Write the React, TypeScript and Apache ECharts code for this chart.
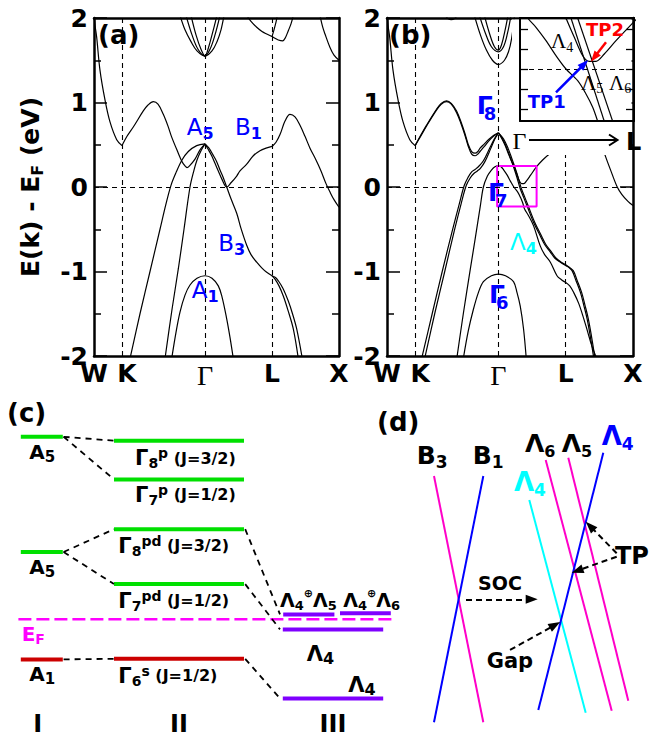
import { useEffect, useRef } from 'react';
import * as echarts from 'echarts';

// ---------- tick labels ----------
const kTicks = [0, 28, 111, 178, 245];
const kLabels = ['W', 'K', 'Γ', 'L', 'X'];
const eTicks = [-2, -1, 0, 1, 2];
const insetTicks = [-0.2, -0.1, 0, 0.1, 0.2];

// ---------- panel (a): bands without SOC  [k, E(eV)] ----------
const aAlphaWK = [[0, 2.03], [1.2, 1.9], [2.7, 1.77], [6, 1.38], [11, 1.03], [16, 0.77], [22.7, 0.56], [28, 0.49]];
const aAlphaKG = [[28, 0.49], [33, 0.6], [39.3, 0.71], [49.3, 0.9], [54, 0.97], [59.3, 1.01], [64, 0.98], [69.3, 0.86], [74, 0.72], [77.7, 0.59], [84.3, 0.4], [88, 0.3], [91, 0.25], [93, 0.23], [95.5, 0.25], [101, 0.33], [106, 0.44], [111, 0.51]];
const aBeta = [[36, -2.03], [46, -1.5], [56, -1.0], [66, -0.5], [72, -0.2], [77, 0.02], [82, 0.17], [88, 0.32], [94.3, 0.42], [102.7, 0.49], [111, 0.51]];
const aGamma = [[71, -2.03], [78, -1.45], [84.3, -0.97], [90, -0.5], [96, 0], [100, 0.2], [103, 0.32], [107, 0.43], [111, 0.51]];
const aA1 = [[77.7, -2.03], [82, -1.72], [86, -1.48], [91, -1.28], [96, -1.16], [103, -1.08], [111, -1.05], [118, -1.08], [124.3, -1.17], [128, -1.3], [132.7, -1.56], [136, -1.78], [139.3, -2.03]];
const aB1GL = [[111, 0.51], [114, 0.45], [117.7, 0.37], [121, 0.28], [124.3, 0.19], [128, 0.09], [132.7, 0.0], [137, 0.05], [142.7, 0.13], [146, 0.19], [152.7, 0.27], [159.3, 0.37], [166, 0.43], [172, 0.46], [178, 0.48]];
const aB1LX = [[178, 0.48], [182, 0.53], [186, 0.62], [191, 0.78], [196, 0.86], [201, 0.83], [206, 0.73], [211, 0.6], [216, 0.46], [222, 0.32], [227, 0.19], [232, 0.04], [236, -0.06], [240, -0.15], [245, -0.24]];
const aB3GL = [[111, 0.51], [115, 0.46], [119, 0.38], [122.7, 0.3], [126, 0.2], [129.3, 0.11], [132.7, 0.0], [137, -0.14], [142.7, -0.31], [147, -0.49], [152.7, -0.69], [157, -0.8], [162.7, -0.89], [168, -0.96], [172.7, -1.01], [178, -1.05]];
const aB3LX1 = [[178, -1.05], [181, -1.09], [185, -1.17], [189.3, -1.29], [194, -1.46], [199.3, -1.68], [204.3, -2.03]];
const aB3LX2 = [[178, -1.05], [181.5, -1.07], [184.3, -1.11], [189, -1.2], [194.3, -1.35], [198.5, -1.5], [202.7, -1.68], [208.3, -2.03]];
const aUp1 = [[86, 2.03], [91, 1.86], [97, 1.72], [103, 1.61], [111, 1.55], [118, 1.61], [123, 1.72], [127, 1.86], [130, 2.03]];
const aUp2 = [[92, 2.03], [98, 1.8], [104, 1.63], [111, 1.55], [116, 1.63], [121, 1.8], [126, 2.03]];
const aUp3 = [[97, 2.03], [102, 1.8], [107, 1.63], [111, 1.55], [114, 1.63], [118, 1.8], [123, 2.03]];
const aUpL1 = [[152.7, 2.03], [157, 1.96], [162.7, 1.89], [168, 1.84], [172.7, 1.81], [178, 1.78], [181, 1.76], [184.3, 1.74], [188.7, 1.73], [191.5, 1.77], [194.3, 1.85], [197, 1.93], [199.3, 2.03]];
const aUpL2 = [[178, 1.78], [180, 1.86], [182, 1.95], [183.3, 2.03]];
const aUpX = [[226, 2.03], [228.5, 1.9], [231, 1.81], [236, 1.65], [240, 1.56], [245, 1.5]];

// ---------- panel (b): bands with SOC ----------
const bAlphaWK = [[0, 2.03], [1.2, 1.9], [2.7, 1.77], [6, 1.38], [11, 1.03], [16, 0.77], [22.7, 0.56], [28, 0.49]];
const bAlphaKG1 = [[28, 0.49], [33, 0.6], [39.3, 0.73], [49.3, 0.92], [54, 0.99], [59.3, 1.02], [64, 0.99], [69.3, 0.9], [74, 0.76], [77.7, 0.63], [81, 0.5], [84.3, 0.42], [87.7, 0.4], [90.5, 0.42], [92.7, 0.46], [97, 0.51], [101, 0.56], [106, 0.61], [111, 0.64]];
const bAlphaKG2 = [[28, 0.49], [33, 0.59], [39.3, 0.72], [49.3, 0.91], [54, 0.98], [59.3, 1.01], [64, 0.98], [69.3, 0.88], [74, 0.74], [77.7, 0.61], [81, 0.48], [84.3, 0.39], [87.7, 0.37], [90.5, 0.39], [92.7, 0.42], [97, 0.48], [101, 0.54], [106, 0.6], [111, 0.64]];
const bBeta1 = [[34.5, -2.03], [45, -1.5], [55, -1.0], [65, -0.52], [72, -0.2], [77, 0.02], [81, 0.12], [84.3, 0.18], [88, 0.21], [91, 0.24], [96, 0.31], [102.7, 0.47], [107, 0.57], [111, 0.64]];
const bBeta2 = [[37.5, -2.03], [47.5, -1.5], [57.5, -1.0], [67, -0.52], [74, -0.19], [79, 0.02], [83, 0.11], [86.5, 0.16], [90, 0.19], [93, 0.22], [97.5, 0.3], [103.5, 0.46], [107.5, 0.57], [111, 0.64]];
const bGamma7 = [[69.5, -2.03], [76, -1.5], [83, -0.97], [88, -0.6], [93, -0.22], [96, 0.0], [100, 0.13], [104, 0.2], [107.5, 0.24], [111, 0.25]];
const bGamma6 = [[76, -2.03], [81, -1.7], [86, -1.45], [91, -1.25], [96, -1.12], [104, -1.05], [111, -1.03], [118, -1.05], [126, -1.12], [129.5, -1.25], [132.7, -1.41], [136, -1.68], [138.7, -2.03]];
const bLam5GL = [[111, 0.64], [115, 0.57], [119.3, 0.46], [123, 0.34], [126, 0.24], [129.5, 0.11], [132.7, -0.02], [136, -0.12], [139.3, -0.22], [146, -0.42], [152.7, -0.58], [157, -0.68], [162.7, -0.77], [167, -0.84], [172.7, -0.89], [178, -0.93]];
const bLam5LX = [[178, -0.93], [181, -0.95], [184.3, -0.99], [188, -1.1], [192.7, -1.25], [196, -1.4], [199.3, -1.56], [202.5, -1.77], [206, -2.03]];
const bLam6GL = [[111, 0.64], [116, 0.57], [120.5, 0.46], [124.2, 0.34], [127.2, 0.24], [130.7, 0.11], [133.9, -0.02], [137.2, -0.12], [140.5, -0.22], [147.2, -0.42], [153.9, -0.58], [158.2, -0.68], [163.9, -0.77], [168.2, -0.84], [173.5, -0.89], [178, -0.92]];
const bLam6LX = [[178, -0.92], [181.5, -0.95], [185.5, -0.99], [189.2, -1.1], [193.9, -1.25], [197.2, -1.4], [200.5, -1.56], [203.7, -1.77], [207.2, -2.03]];
const bLam4UpGL = [[111, 0.64], [114, 0.58], [117.7, 0.49], [121, 0.39], [124.3, 0.3], [126.3, 0.25], [129.1, 0.16], [131.9, 0.07], [134.1, 0.04], [136.3, 0.04], [139.1, 0.075], [143, 0.14], [149, 0.24], [155, 0.32], [162.7, 0.4], [168, 0.44], [173, 0.47], [178, 0.48]];
const bLam4UpLX = [[178, 0.48], [182, 0.53], [186, 0.62], [191, 0.78], [196, 0.86], [201, 0.83], [206, 0.74], [211, 0.6], [215, 0.46], [217.7, 0.36], [222.7, 0.2], [229.3, 0.0], [234, -0.09], [240, -0.17], [245, -0.22]];
const bLam4LoGL = [[111, 0.25], [113.6, 0.24], [116.3, 0.2], [119.7, 0.14], [123, 0.067], [126.3, 0.0], [130.2, -0.06], [133, -0.125], [135.2, -0.19], [137, -0.26], [141, -0.34], [146, -0.46], [152.7, -0.7], [157, -0.8], [162.7, -0.89], [169.3, -1.05], [174, -1.1], [178, -1.13]];
const bLam4LoLX = [[178, -1.13], [182, -1.17], [186, -1.25], [191, -1.38], [196, -1.56], [200, -1.72], [204, -1.88], [209, -2.03]];
const bUp1 = [[87, 2.03], [93, 1.8], [99, 1.62], [105, 1.5], [111, 1.45], [117, 1.5], [121, 1.6], [124, 1.75], [127, 2.03]];
const bUp2 = [[92, 2.03], [98, 1.82], [104, 1.66], [111, 1.6], [116, 1.66], [120, 1.82], [123.5, 2.03]];
const bUp3 = [[97, 2.03], [102, 1.82], [107, 1.66], [111, 1.62], [114, 1.68], [117.5, 1.85], [120.5, 2.03]];
const bTop = [[58, 2.03], [61, 1.99], [64, 1.98], [67, 1.99], [70, 2.03]];
const bZoomBox = [[109.7, 0.25], [149, 0.25], [149, -0.23], [109.7, -0.23], [109.7, 0.25]];

// ---------- inset (zoom of the magenta box) ----------
const insLam4Lo = [[112.6, 0.29], [113.57, 0.255], [116.33, 0.2085], [119.67, 0.1415], [123, 0.0665], [126.33, 0], [130.23, -0.0585], [133, -0.125], [135.23, -0.1915], [136.9, -0.2615], [137.2, -0.28]];
const insLam4Up = [[125.6, 0.29], [126.33, 0.255], [129.1, 0.1585], [131.9, 0.0665], [134.1, 0.0385], [136.33, 0.0385], [139.1, 0.075], [143, 0.1415], [149.1, 0.2385], [150, 0.25]];
const insLam5 = [[127.5, 0.278], [139.6, -0.285]];
const insLam6 = [[129.7, 0.278], [142.4, -0.284]];
const insArrowTP1 = [[123, -0.1165], [132.43, 0.025]];
const insArrowTP2 = [[139.67, 0.1335], [135.77, 0.0585]];

// ---------- panel (c): schematic levels ----------
const cLevelsI = [9.44, 5.6, 2.02]; // A5, A5, A1
const cLevelsII = [9.31, 8.02, 6.36, 4.53, 2.04]; // Γ8p, Γ7p, Γ8pd, Γ7pd, Γ6s
const cLevelsIII = [3.52, 3.56, 3.02, 0.72]; // Λ4⊕Λ5, Λ4⊕Λ6, Λ4, Λ4
const cEF = 3.36;
const cLinksI_II = [[0, 0], [0, 1], [1, 2], [1, 3], [2, 4]];
const cLinksII_III = [[2, 0], [3, 2], [4, 3]];

// ---------- panel (d): schematic crossings ----------
const dB3 = [[1.133, 8.467], [2.777, 0.257]];
const dB1 = [[2.777, 8.467], [1.133, 0.257]];
const dLam4c = [[4.31, 7.667], [6.19, 0.577]];
const dLam6 = [[4.857, 9.0], [7.057, 0.643]];
const dLam5 = [[5.61, 9.077], [7.61, 0.977]];
const dLam4b = [[6.777, 9.243], [4.61, 0.667]];
const dArrows = [
  [[2.2, 4.357], [4.39, 4.357]],
  [[7.223, 5.89], [6.333, 6.8]],
  [[7.223, 5.777], [5.91, 5.31]],
  [[3.667, 2.667], [5.167, 3.5]],
];

const FF = 'DejaVu Sans';
const SERIF = 'Liberation Serif';
const GREEN = '#00e000';
const RED = '#cc0000';
const PURPLE = '#7f00ff';
const MAG = '#ff00ff';
const PINK = '#ff00c8';
const BLUE = '#0000ff';
const CYAN = '#00ffff';

function kFormatter(v: number) {
  const i = kTicks.findIndex((t) => Math.abs(t - v) < 0.01);
  if (i < 0) return '';
  const l = kLabels[i];
  if (l === 'Γ') return '{g|Γ}';
  if (l === 'K') return '{k|K}';
  return '{b|' + l + '}';
}

function kAxis(gridIndex: number, position: string, labels: boolean) {
  return {
    type: 'value', gridIndex, position, min: 0, max: 245,
    axisLine: { show: true, onZero: false, lineStyle: { color: '#000', width: 2.5 } },
    axisTick: { show: false }, splitLine: { show: false }, minorTick: { show: false },
    axisLabel: labels
      ? {
          show: true, margin: 5, customValues: kTicks, formatter: kFormatter,
          rich: {
            b: { fontFamily: FF, fontWeight: 'bold', fontSize: 25, color: '#000' },
            k: { fontFamily: FF, fontWeight: 'bold', fontSize: 25, color: '#000', padding: [0, 0, 0, 10] },
            g: { fontFamily: SERIF, fontSize: 28, color: '#000' },
          },
        }
      : { show: false },
  };
}

function eAxis(gridIndex: number, position: string, labels: boolean) {
  return {
    type: 'value', gridIndex, position, min: -2, max: 2, interval: 1,
    axisLine: { show: true, onZero: false, lineStyle: { color: '#000', width: 2.5 } },
    axisTick: { show: true, inside: true, length: 13, lineStyle: { color: '#000', width: 1.5 } },
    minorTick: { show: true, splitNumber: 2, length: 7, lineStyle: { color: '#000', width: 1.5 } },
    splitLine: { show: false },
    axisLabel: labels
      ? { show: true, margin: 6, customValues: eTicks, color: '#000', fontFamily: FF, fontWeight: 'bold', fontSize: 25, showMinLabel: true, showMaxLabel: true }
      : { show: false },
  };
}

function hiddenAxis(gridIndex: number, min: number, max: number) {
  return { type: 'value', gridIndex, min, max, show: false };
}

function band(data: number[][], ax: number, extra: any = {}) {
  return {
    type: 'line', xAxisIndex: ax, yAxisIndex: ax, data, symbol: 'none', showSymbol: false,
    smooth: 0.35, silent: true, lineStyle: { color: '#000', width: 1.2 }, ...extra,
  };
}

function refLines() {
  return {
    silent: true, symbol: ['none', 'none'], label: { show: false },
    lineStyle: { color: '#000', type: [5, 4], width: 1.1 },
    data: [{ xAxis: kTicks[1] }, { xAxis: kTicks[2] }, { xAxis: kTicks[3] }, { yAxis: 0 }],
  };
}

function seg(ax: number, p0: number[], p1: number[], color: string, width: number, type: any = 'solid', extra: any = {}) {
  return {
    type: 'line', xAxisIndex: ax, yAxisIndex: ax, data: [p0, p1], symbol: 'none', silent: true,
    lineStyle: { color, width, type }, ...extra,
  };
}

// rich-text helpers
function rs(size: number, color: string, weight = 'bold', family = FF, lh?: number, va = 'middle', extra: any = {}) {
  return { fontSize: size, fontWeight: weight, fontFamily: family, fill: color, lineHeight: lh ?? Math.round(size * 1.25), verticalAlign: va, ...extra };
}
function T(x: number, y: number, text: string, rich: any, extra: any = {}, z = 100) {
  return { type: 'text', x, y, z, silent: true, style: { text, rich, align: 'left', verticalAlign: 'middle', ...extra } };
}
function subLabel(x: number, y: number, main: string, sub: string, color: string, mSize: number, sSize: number, mWeight = 'bold', family = FF, sLh?: number, z = 100) {
  return T(x, y, `{m|${main}}{s|${sub}}`, {
    m: rs(mSize, color, mWeight, family),
    s: rs(sSize, color, family === FF ? 'bold' : 'normal', family, sLh ?? Math.round(sSize * 0.9), 'bottom'),
  }, {}, z);
}
// Γ with its subscript tucked under the bar (as in panel b)
function tuckedGamma(x: number, y: number, sub: string, color: string) {
  return T(x, y, `{m|Γ}{s|${sub}}`, {
    m: rs(25, color, 'bold', FF, 34, 'middle', { width: 7 }),
    s: rs(18, color, 'bold', FF, 6, 'bottom'),
  });
}
function plain(x: number, y: number, text: string, size: number, color = '#000', align = 'left', weight = 'bold', family = FF, z = 100) {
  return { type: 'text', x, y, z, silent: true, style: { text, fill: color, fontSize: size, fontWeight: weight, fontFamily: family, align, verticalAlign: 'middle' } };
}
function gammaLabel(x: number, y: number, sub: string, sup: string, j: string) {
  return T(x, y, `{m|Γ}{s|${sub}}{p|${sup}}{j| ${j}}`, {
    m: rs(21, '#000', 'bold', FF, 24),
    s: rs(14, '#000', 'bold', FF, 13, 'bottom'),
    p: rs(14, '#000', 'bold', FF, 14, 'top'),
    j: rs(16, '#000', 'bold', FF, 24),
  });
}
function lamSum(x: number, y: number, a: string, b: string) {
  return T(x, y, `{m|Λ}{s|${a}}{o|⊕}{m|Λ}{s|${b}}`, {
    m: rs(19, '#000', 'bold', FF, 24),
    s: rs(13, '#000', 'bold', FF, 12, 'bottom'),
    o: rs(11, '#000', 'bold', FF, 12, 'top'),
  });
}

function buildOption() {
  const series: any[] = [];

  // (a)
  const aBands = [aAlphaWK, aAlphaKG, aBeta, aGamma, aA1, aB1GL, aB1LX, aB3GL, aB3LX1, aB3LX2, aUp1, aUp2, aUp3, aUpL1, aUpL2, aUpX];
  aBands.forEach((d, i) => series.push(band(d, 0, i === 0 ? { markLine: refLines() } : {})));

  // (b)
  const bBands = [bAlphaWK, bAlphaKG1, bAlphaKG2, bBeta1, bBeta2, bGamma7, bGamma6, bLam5GL, bLam5LX, bLam6GL, bLam6LX, bLam4UpGL, bLam4UpLX, bLam4LoGL, bLam4LoLX, bUp1, bUp2, bUp3, bTop];
  bBands.forEach((d, i) => series.push(band(d, 2, i === 0 ? { markLine: refLines() } : {})));
  series.push(band(bZoomBox, 2, { smooth: false, lineStyle: { color: MAG, width: 2 } }));

  // inset
  [insLam4Lo, insLam4Up, insLam5, insLam6].forEach((d, i) =>
    series.push(band(d, 4, {
      z: 60, smooth: i < 2 ? 0.3 : false, lineStyle: { color: '#000', width: 1.2 },
      ...(i === 0
        ? {
            markLine: {
              z: 61, silent: true, symbol: ['none', 'none'], label: { show: false },
              lineStyle: { color: '#000', type: [5, 4], width: 1.1 }, data: [{ yAxis: 0 }],
            },
          }
        : {}),
      ...(i === 1
        ? {
            markLine: {
              z: 65, silent: true, symbol: ['none', 'triangle'], symbolSize: [8, 11], label: { show: false },
              data: [
                [{ coord: insArrowTP1[0], lineStyle: { color: BLUE, width: 2.5, type: 'solid' } }, { coord: insArrowTP1[1] }],
                [{ coord: insArrowTP2[0], lineStyle: { color: '#ff0000', width: 2.5, type: 'solid' } }, { coord: insArrowTP2[1] }],
              ],
            },
          }
        : {}),
    }))
  );

  // (c) levels
  const colI = [0.52, 1.57];
  const colII = [2.85, 6.1];
  const colIIIspans = [[7.08, 8.36], [8.5, 9.77], [7.07, 9.58], [7.07, 9.58]];
  const colorsI = [GREEN, GREEN, RED];
  const colorsII = [GREEN, GREEN, GREEN, GREEN, RED];
  series.push(seg(6, [0.46, cEF], [9.83, cEF], MAG, 2.5, [13, 5]));
  cLevelsI.forEach((e, i) => series.push(seg(6, [colI[0], e], [colI[1], e], colorsI[i], 4)));
  cLevelsII.forEach((e, i) => series.push(seg(6, [colII[0], e], [colII[1], e], colorsII[i], 4)));
  cLevelsIII.forEach((e, i) => series.push(seg(6, [colIIIspans[i][0], e], [colIIIspans[i][1], e], PURPLE, 4)));
  cLinksI_II.forEach(([i, j]) => series.push(seg(6, [colI[1] + 0.02, cLevelsI[i]], [colII[0], cLevelsII[j]], '#000', 1.8, [6, 5])));
  cLinksII_III.forEach(([j, k]) => series.push(seg(6, [colII[1] + 0.03, cLevelsII[j]], [7.0, cLevelsIII[k]], '#000', 1.8, [6, 5])));

  // (d)
  const dLines = [dB3, dB1, dLam4c, dLam6, dLam5, dLam4b];
  const dColors = [PINK, BLUE, CYAN, PINK, PINK, BLUE];
  dLines.forEach((d, i) =>
    series.push(seg(7, d[0], d[1], dColors[i], 2, 'solid', i === 0
      ? {
          markLine: {
            silent: true, symbol: ['none', 'triangle'], symbolSize: [9, 12], label: { show: false },
            lineStyle: { color: '#000', type: [6, 4], width: 2 },
            data: dArrows.map((a) => [{ coord: a[0] }, { coord: a[1] }]),
          },
        }
      : {}))
  );

  const graphic: any[] = [
    // white area behind the inset and the Γ→L arrow
    { type: 'rect', z: 50, silent: true, shape: { x: 512, y: 19.5, width: 119.5, height: 135.5 }, style: { fill: '#fff' } },
    // axis title
    {
      type: 'text', x: 30, y: 187, rotation: Math.PI / 2, z: 100, silent: true,
      style: {
        text: '{m|E(k) - E}{s|F}{m| (eV)}', align: 'center', verticalAlign: 'middle',
        rich: { m: rs(25, '#000', 'bold', FF, 30), s: rs(16, '#000', 'bold', FF, 14, 'bottom') },
      },
    },
    plain(98, 35, '(a)', 26),
    plain(389, 35, '(b)', 26),
    subLabel(186.7, 127, 'A', '5', BLUE, 23, 16, 'normal'),
    subLabel(235, 127, 'B', '1', BLUE, 23, 16, 'normal'),
    subLabel(218.3, 243, 'B', '3', BLUE, 23, 16, 'normal'),
    subLabel(191.7, 290, 'A', '1', BLUE, 23, 16, 'normal'),
    tuckedGamma(476.7, 105, '8', BLUE),
    tuckedGamma(488, 192.5, '7', BLUE),
    tuckedGamma(489, 294, '6', BLUE),
    subLabel(510, 242, 'Λ', '4', CYAN, 23, 16, 'normal', FF, 11),
    // inset labels
    subLabel(551, 41, 'Λ', '4', '#000', 21, 14, 'normal', SERIF, 11, 70),
    subLabel(581, 82.5, 'Λ', '5', '#000', 21, 14, 'normal', SERIF, 11, 70),
    subLabel(609, 82.5, 'Λ', '6', '#000', 21, 14, 'normal', SERIF, 11, 70),
    plain(586, 29, 'TP2', 18, '#ff0000', 'left', 'bold', FF, 70),
    plain(527.7, 101.5, 'TP1', 18, BLUE, 'left', 'bold', FF, 70),
    plain(512.5, 140.5, 'Γ', 24, '#000', 'left', 'normal', SERIF, 70),
    plain(626, 141.5, 'L', 24, '#000', 'left', 'bold', FF, 70),
    { type: 'line', z: 70, silent: true, shape: { x1: 529, y1: 140, x2: 617, y2: 140 }, style: { stroke: '#000', lineWidth: 2 } },
    { type: 'polyline', z: 70, silent: true, shape: { points: [[609, 134.5], [617.5, 140], [609, 145.5]] }, style: { stroke: '#000', lineWidth: 2, fill: 'none' } },
    // (c)
    plain(7, 413, '(c)', 26),
    subLabel(29.3, 451.5, 'A', '5', '#000', 20, 15, 'bold', FF, 11),
    subLabel(29.3, 566.5, 'A', '5', '#000', 20, 15, 'bold', FF, 11),
    subLabel(29.3, 673.5, 'A', '1', '#000', 20, 15, 'bold', FF, 11),
    gammaLabel(135, 458, '8', 'p', '(J=3/2)'),
    gammaLabel(135, 494.5, '7', 'p', '(J=1/2)'),
    gammaLabel(118.3, 545.5, '8', 'pd', '(J=3/2)'),
    gammaLabel(118.3, 600.5, '7', 'pd', '(J=1/2)'),
    gammaLabel(118.3, 675.5, '6', 's', '(J=1/2)'),
    subLabel(21.7, 633.5, 'E', 'F', MAG, 20, 14, 'bold', FF, 10),
    lamSum(280, 600, '4', '5'),
    lamSum(343.3, 600, '4', '6'),
    subLabel(306.7, 653.5, 'Λ', '4', '#000', 21, 16, 'bold', FF, 11),
    subLabel(348.3, 684.5, 'Λ', '4', '#000', 21, 16, 'bold', FF, 11),
    plain(37.7, 724, 'I', 24, '#000', 'center'),
    plain(179, 724, 'II', 24, '#000', 'center'),
    plain(333, 724, 'III', 24, '#000', 'center'),
    // (d)
    plain(377, 422, '(d)', 26),
    subLabel(416.7, 455, 'B', '3', '#000', 25, 17, 'bold', FF, 13),
    subLabel(472.7, 455, 'B', '1', '#000', 25, 17, 'bold', FF, 13),
    subLabel(514, 482, 'Λ', '4', CYAN, 26, 17, 'bold', FF, 13),
    subLabel(525, 443.5, 'Λ', '6', '#000', 25, 16, 'bold', FF, 13),
    subLabel(561.7, 443.5, 'Λ', '5', '#000', 25, 16, 'bold', FF, 13),
    subLabel(601.7, 436, 'Λ', '4', BLUE, 26, 17, 'bold', FF, 13),
    plain(500, 583, 'SOC', 19, '#000', 'center'),
    plain(615, 556, 'TP', 24),
    plain(486.7, 661, 'Gap', 21),
  ];

  return {
    animation: false,
    backgroundColor: '#fff',
    grid: [
      { left: 94, top: 18, width: 245, height: 338, outerBoundsMode: 'none' },
      { left: 387, top: 18, width: 246, height: 338, outerBoundsMode: 'none' },
      { left: 520, top: 18, width: 114, height: 103, z: 60, outerBoundsMode: 'none' },
      { left: 0, top: 420, width: 400, height: 300, outerBoundsMode: 'none' },
      { left: 400, top: 430, width: 240, height: 300, outerBoundsMode: 'none' },
    ],
    xAxis: [
      kAxis(0, 'bottom', true),
      kAxis(0, 'top', false),
      kAxis(1, 'bottom', true),
      kAxis(1, 'top', false),
      {
        type: 'value', gridIndex: 2, position: 'bottom', min: 111, max: 149, z: 60,
        axisLine: { show: true, onZero: false, lineStyle: { color: '#000', width: 2 } },
        axisTick: { show: false }, axisLabel: { show: false }, splitLine: { show: false },
      },
      {
        type: 'value', gridIndex: 2, position: 'top', min: 111, max: 149, z: 60,
        axisLine: { show: true, onZero: false, lineStyle: { color: '#000', width: 2 } },
        axisTick: { show: false }, axisLabel: { show: false }, splitLine: { show: false },
      },
      hiddenAxis(3, 0, 10),
      hiddenAxis(4, 0, 8),
    ],
    yAxis: [
      eAxis(0, 'left', true),
      eAxis(0, 'right', false),
      eAxis(1, 'left', true),
      eAxis(1, 'right', false),
      ...['left', 'right'].map((p) => ({
        type: 'value', gridIndex: 2, position: p, min: -0.26, max: 0.255, z: 60,
        axisLine: { show: true, onZero: false, lineStyle: { color: '#000', width: 2 } },
        axisTick: { show: true, inside: true, length: 8, customValues: insetTicks, lineStyle: { color: '#000', width: 1.3 } },
        axisLabel: { show: false }, splitLine: { show: false },
      })),
      hiddenAxis(3, 0, 10),
      hiddenAxis(4, 0, 10),
    ],
    series,
    graphic: { elements: graphic },
  };
}

export default function App() {
  const ref = useRef<HTMLDivElement>(null);
  useEffect(() => {
    document.body.style.margin = '0';
    const chart = echarts.init(ref.current!, null, { renderer: 'svg' });
    chart.setOption(buildOption() as any);
    return () => chart.dispose();
  }, []);
  return <div ref={ref} style={{ position: 'absolute', left: 0, top: 0, width: 650, height: 737 }} />;
}
